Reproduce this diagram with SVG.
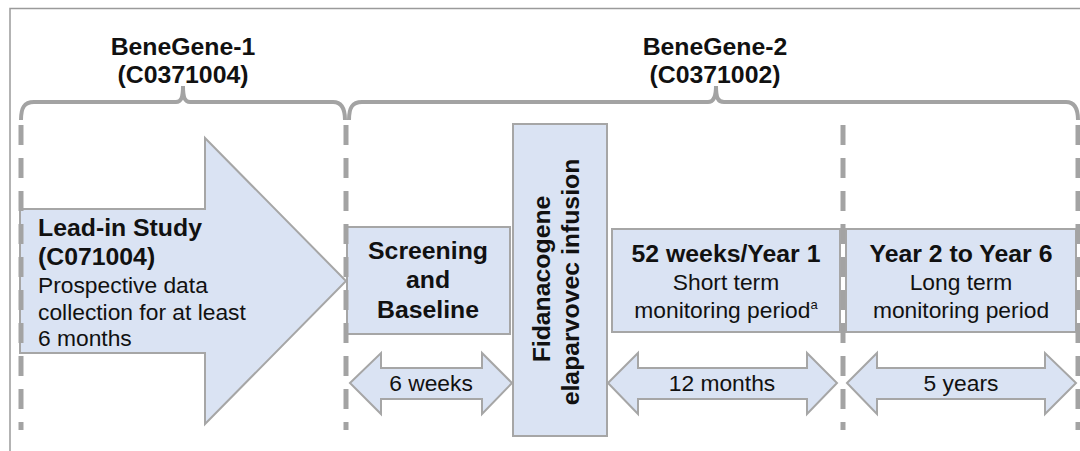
<svg xmlns="http://www.w3.org/2000/svg" width="1080" height="451" viewBox="0 0 1080 451">
<style>
.shape{fill:#dae3f3;stroke:#a6a6a6;stroke-width:2}
.b{font-family:"Liberation Sans",Arial,sans-serif;font-weight:bold;font-size:24.8px;fill:#111}
.r{font-family:"Liberation Sans",Arial,sans-serif;font-size:22.8px;fill:#111}
.c{text-anchor:middle}
.brace{fill:none;stroke:#a3a3a3;stroke-width:4}
.dash{fill:none;stroke:#a3a3a3;stroke-width:5;stroke-dasharray:20 13}
.frame{fill:none;stroke:#9a9a9a;stroke-width:1.5}
</style>
<rect width="1080" height="451" fill="#fff"/>
<path class="frame" d="M10,451 V8.5 H1080"/>

<g id="headers">
<text class="b c" x="183" y="55">BeneGene-1</text>
<text class="b c" x="183" y="83">(C0371004)</text>
<text class="b c" x="715" y="55">BeneGene-2</text>
<text class="b c" x="715" y="83">(C0371002)</text>
</g>

<g id="lead-in">
<polygon class="shape" points="20,209 205,209 205,138 346,281 205,424 205,353 20,353"/>
<text class="b" x="38" y="236">Lead-in Study</text>
<text class="b" x="38" y="265">(C071004)</text>
<text class="r" x="38" y="293">Prospective data</text>
<text class="r" x="38" y="320">collection for at least</text>
<text class="r" x="38" y="346">6 months</text>
</g>

<g id="screening">
<rect class="shape" x="347" y="227" width="163" height="107"/>
<text class="b c" x="428" y="259">Screening</text>
<text class="b c" x="428" y="288">and</text>
<text class="b c" x="428" y="318">Baseline</text>
</g>

<g id="infusion">
<rect class="shape" x="513" y="124" width="94" height="312"/>
<text class="b c" transform="translate(550,279) rotate(-90)">Fidanacogene</text>
<text class="b c" transform="translate(579,282) rotate(-90)">elaparvovec infusion</text>
</g>

<g id="year1">
<rect class="shape" x="612" y="229" width="228" height="103"/>
<text class="b c" x="726" y="262">52 weeks/Year 1</text>
<text class="r c" x="726" y="290">Short term</text>
<text class="r c" x="726" y="318">monitoring period<tspan font-size="13" dy="-9">a</tspan></text>
</g>

<g id="year2-6">
<rect class="shape" x="846" y="229" width="230" height="103"/>
<text class="b c" x="961" y="262">Year 2 to Year 6</text>
<text class="r c" x="961" y="290">Long term</text>
<text class="r c" x="961" y="318">monitoring period</text>
</g>

<g id="dur-6weeks">
<polygon class="shape" points="350,383 381,353 381,368 482,368 482,353 512,383 482,414 482,399 381,399 381,414"/>
<text class="r c" x="431" y="391">6 weeks</text>
</g>

<g id="dur-12months">
<polygon class="shape" points="608,383 638,353 638,368 807,368 807,353 837,383 807,414 807,399 638,399 638,414"/>
<text class="r c" x="722" y="391">12 months</text>
</g>

<g id="dur-5years">
<polygon class="shape" points="847,383 877,353 877,368 1045,368 1045,353 1076,383 1045,414 1045,399 877,399 877,414"/>
<text class="r c" x="961" y="391">5 years</text>
</g>

<g id="connectors">
<path class="brace" d="M21,120 C21,108 24,102 34,102 L176,102 C181,102 183,98 183,86 C183,98 185,102 190,102 L333,102 C341,102 345,108 345,120"/>
<path class="brace" d="M349,120 C349,108 352,102 362,102 L708,102 C713,102 716,98 716,86 C716,98 718,102 724,102 L1066,102 C1074,102 1078,108 1078,120"/>
<path class="dash" d="M21,125 V430"/>
<path class="dash" d="M346,125 V430"/>
<path class="dash" d="M843,125 V430"/>
<path class="dash" d="M1078,125 V430"/>
</g>
</svg>
